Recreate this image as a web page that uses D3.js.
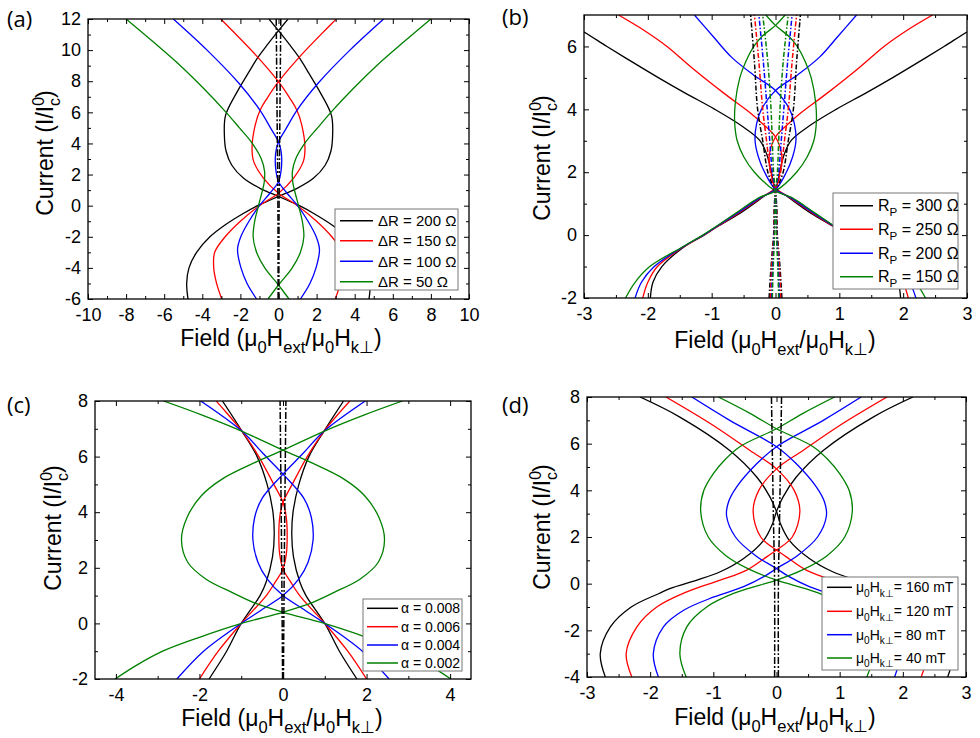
<!DOCTYPE html>
<html>
<head>
<meta charset="utf-8">
<script src="https://cdn.jsdelivr.net/npm/d3@7/dist/d3.min.js"></script>
<style>
  body { margin: 0; background: #fff; }
  text { font-family: "Liberation Sans", Arial, sans-serif; }
</style>
</head>
<body>
<svg id="fig" width="980" height="738"></svg>
<script>
// each series is one branch as [current, field]; the other branch is its mirror (-field)

// (a) resistance difference
var aNames = ["ΔR = 200 Ω", "ΔR = 150 Ω", "ΔR = 100 Ω", "ΔR = 50 Ω"]
var aR200 = [[-6,-4.75],[-5,-4.82],[-4,-4.7],[-3,-4.3],[-2,-3.6],[-1.24,-2.81],[-0.5,-1.85],[0,-1.1],[0.3,-0.55],[0.6,0],[1.1,0.95],[1.76,1.83],[2.6,2.45],[3.5,2.75],[4.5,2.84],[5.8,2.78],[7.3,2.18],[8.5,1.6],[9.5,1.1],[10.4,0.55],[11.25,0],[12,-0.5]]
var aR150 = [[-6,-2.98],[-5,-3.25],[-4,-3.4],[-3,-3.35],[-2,-2.8],[-1,-2.0],[0,-1.0],[0.8,0],[1.76,0.78],[2.83,1.3],[3.7,1.39],[5.2,1.22],[6.15,0.96],[6.9,0.6],[7.97,0],[9.6,-1.13],[12,-3.03]]
var aR100 = [[-6,-1.15],[-5,-1.65],[-4,-1.97],[-2.8,-2.15],[-2,-1.98],[-1,-1.55],[0,-1.0],[0.8,-0.45],[1.54,0],[2.2,0.13],[3.0,0.17],[3.6,0.12],[4.11,0],[5,-0.42],[6.1,-0.95],[7.9,-2.1],[10,-3.75],[12,-5.52]]
var aR50 = [[-6,0.55],[-5.1,0],[-4,-0.72],[-3,-1.15],[-2,-1.33],[-1,-1.25],[0,-1.05],[0.8,-0.88],[1.5,-0.75],[2.2,-0.73],[3,-0.9],[4.1,-1.43],[5,-2.05],[6,-2.75],[7.5,-3.9],[9,-5.15],[10.5,-6.55],[12,-8.0]]
var aDash = [[-6,0.02],[0,0.03],[4,0.06],[12,0.12]]
var aXTicks = [-10,-8,-6,-4,-2,0,2,4,6,8,10]
var aYTicks = [-6,-4,-2,0,2,4,6,8,10,12]

// (b) parallel resistance
var bNames = ["R_{P} = 300 Ω", "R_{P} = 250 Ω", "R_{P} = 200 Ω", "R_{P} = 150 Ω"]
var bP300 = [[-2,1.96],[-1.5,1.92],[-1,1.78],[-0.4,1.45],[0,1.12],[0.26,0.92],[0.69,0.56],[1.22,0.19],[1.5,0],[2.06,-0.07],[2.59,-0.14],[3.02,-0.25],[3.5,-0.55],[4.0,-0.95],[4.5,-1.4],[5.0,-1.83],[5.5,-2.24],[6.0,-2.64],[6.46,-3.0],[7,-3.45]]
var bP250 = [[-2,-2.08],[-1.5,-2.0],[-1,-1.85],[-0.4,-1.46],[0,-1.12],[0.25,-0.93],[0.7,-0.58],[1.2,-0.22],[1.5,0],[2.0,0.07],[2.5,0.1],[3.12,0],[3.5,-0.18],[3.86,-0.38],[4.5,-0.8],[5.34,-1.32],[6,-1.7],[6.5,-2.05],[7,-2.46]]
var bP200 = [[-2,-2.2],[-1.5,-2.1],[-1,-1.9],[-0.4,-1.47],[0,-1.13],[0.25,-0.94],[0.7,-0.6],[1.2,-0.23],[1.45,0],[2.0,0.17],[2.5,0.27],[3.0,0.32],[3.5,0.3],[4.0,0.22],[4.6,0],[5.1,-0.35],[5.66,-0.69],[6.3,-0.97],[7,-1.27]]
var bP150 = [[-2,2.35],[-1.5,2.2],[-1,1.97],[-0.4,1.48],[0,1.14],[0.25,0.95],[0.7,0.62],[1.2,0.25],[1.4,0],[2.0,-0.33],[2.5,-0.5],[3.0,-0.6],[3.6,-0.64],[4.2,-0.63],[5.0,-0.56],[5.5,-0.47],[6.0,-0.34],[6.3,-0.22],[6.67,0],[7,0.15]]
var bDash300 = [[-2,-0.1],[-1,-0.07],[0,-0.03],[1.3,0],[2,0.12],[3,0.2],[4,0.28],[5.5,0.33],[7,0.39]]
var bDash250 = [[-2,-0.08],[-1,-0.06],[0,-0.025],[1.3,0],[2,0.08],[3,0.14],[4,0.2],[5.5,0.26],[7,0.33]]
var bDash200 = [[-2,-0.06],[-1,-0.045],[0,-0.02],[1.3,0],[2,0.05],[3,0.09],[4,0.13],[5.5,0.19],[7,0.26]]
var bDash150 = [[-2,-0.05],[-1,-0.035],[0,-0.015],[1.3,0],[2,0.03],[3,0.05],[4,0.07],[5.5,0.12],[7,0.2]]
var bXTicks = [-3,-2,-1,0,1,2,3]
var bYTicks = [-2,0,2,4,6]

// (c) damping
var cNames = ["α = 0.008", "α = 0.006", "α = 0.004", "α = 0.002"]
var cA008 = [[-2,-1.77],[-1,-1.35],[0,-1.0],[1,-0.55],[1.5,-0.4],[2.4,-0.25],[3.2,-0.21],[4,-0.24],[5,-0.38],[6,-0.62],[6.91,-0.98],[8,-1.45]]
var cA006 = [[-2,-2.0],[-1,-1.55],[0,-1.0],[1,-0.4],[1.5,-0.18],[1.96,0],[2.5,0.08],[3.1,0.1],[3.8,0.08],[4.36,0],[5,-0.22],[6,-0.58],[6.91,-0.98],[8,-1.6]]
var cA004 = [[-2,-2.54],[-1,-1.9],[0,-1.0],[0.5,-0.5],[1.0,0],[1.6,0.38],[2.2,0.6],[3,0.72],[3.8,0.68],[4.5,0.5],[5.37,0],[6.1,-0.47],[6.91,-0.98],[8,-1.97]]
var cA002 = [[-2,-4.02],[-1.5,-3.5],[-1,-2.88],[-0.5,-2.0],[0,-0.99],[0.4,0],[0.7,0.62],[1.1,1.2],[1.6,1.85],[2.2,2.28],[3.0,2.43],[3.8,2.3],[4.6,1.95],[5.2,1.45],[5.8,0.65],[6.23,0],[6.91,-0.98],[7.5,-1.95],[8,-2.86]]
var cDash = [[-2,0.01],[2,0.03],[8,0.07]]
var cXTicks = [-4,-2,0,2,4]
var cYTicks = [-2,0,2,4,6,8]

// (d) anisotropy field
var dNames = ["μ_{0}H_{k⊥}= 160 mT", "μ_{0}H_{k⊥}= 120 mT", "μ_{0}H_{k⊥}= 80 mT", "μ_{0}H_{k⊥}= 40 mT"]
var dK160 = [[-4,-2.71],[-3,-2.79],[-1.85,-2.63],[-1,-2.3],[-0.42,-1.86],[-0.2,-1.68],[0.15,-1.26],[0.51,-0.89],[1.08,-0.52],[1.87,-0.2],[2.59,-0.06],[3.09,0],[3.7,0.1],[4.56,0.31],[5.71,0.74],[7.14,1.53],[8,2.16]]
var dK120 = [[-4,-2.29],[-3,-2.38],[-1.85,-2.21],[-0.99,-1.89],[-0.35,-1.42],[0.15,-0.89],[0.58,-0.47],[1.16,-0.15],[1.44,0],[2.0,0.25],[3.09,0.37],[4.0,0.28],[4.92,0],[5.71,-0.42],[6.78,-1.0],[8,-1.75]]
var dK80 = [[-4,-1.87],[-3,-1.95],[-1.85,-1.79],[-1.14,-1.47],[-0.57,-0.99],[-0.13,-0.52],[0.3,-0.2],[0.65,0],[1.2,0.33],[2.0,0.65],[2.9,0.79],[3.5,0.76],[4.15,0.63],[5.15,0.31],[5.87,0],[7.0,-0.74],[8,-1.34]]
var dK40 = [[-4,-1.43],[-3,-1.53],[-1.85,-1.42],[-0.99,-1.1],[-0.42,-0.68],[-0.06,-0.26],[0.15,0],[0.6,0.42],[1.2,0.8],[2.0,1.08],[3.09,1.2],[4.0,1.15],[4.72,1.0],[5.3,0.82],[5.87,0.58],[6.64,0],[7.3,-0.42],[8,-0.92]]
var dDash = [[-4,0.03],[0,0.03],[3,0.05],[8,0.08]]
var dXTicks = [-3,-2,-1,0,1,2,3]
var dYTicks = [-4,-2,0,2,4,6,8]

var colors = ["#000000", "#ff0000", "#0000ff", "#008000"]

var svg = d3.select("#fig")

// writes "a_{b}c^{d}" style strings as tspans
function rich(textSel, str, fs){
  var re = /([_^])\{([^}]*)\}|([^_^]+)/g, m, shift = 0
  while((m = re.exec(str)) !== null){
    var kind = m[1] ? (m[1] == "_" ? 1 : 2) : 0
    var t = textSel.append("tspan").text(m[1] ? m[2] : m[3])
    var target = kind == 1 ? 0.3*fs : kind == 2 ? -0.42*fs : 0
    t.attr("dy", target - shift)
    shift = target
    if(kind) t.attr("font-size", fs*0.72)
  }
}

var xTitle = "Field (μ_{0}H_{ext}/μ_{0}H_{k⊥})"

function draw_panel(p, idx){
  var box = p.box
  var x = d3.scaleLinear().domain(p.xd).range([box[0], box[1]])
  var y = d3.scaleLinear().domain(p.yd).range([box[3], box[2]])

  var g = svg.append("g")

  svg.append("clipPath").attr("id", "clip" + idx)
    .append("rect")
    .attr("x", box[0]).attr("y", box[2])
    .attr("width", box[1] - box[0]).attr("height", box[3] - box[2])

  var plot = g.append("g").attr("clip-path", "url(#clip" + idx + ")")

  function branch(sign){
    return d3.line()
      .x(function(d){return x(sign * d[1])})
      .y(function(d){return y(d[0])})
      .curve(d3.curveCatmullRom.alpha(0.5))
  }

  p.series.forEach(function(s, i){
    [1, -1].forEach(function(sign){
      plot.append("path")
        .datum(s)
        .attr("d", branch(sign))
        .attr("fill", "none")
        .attr("stroke", colors[i])
        .attr("stroke-width", 1.3)
    })
  })

  p.dashes.forEach(function(s, i){
    [1, -1].forEach(function(sign){
      plot.append("path")
        .datum(s)
        .attr("d", branch(sign))
        .attr("fill", "none")
        .attr("stroke", p.dashColors[i])
        .attr("stroke-width", 1.5)
        .attr("stroke-dasharray", p.dashPattern)
    })
  })

  // ticks, inward on all four sides
  function minorVals(scale, major, step){
    var d = scale.domain(), out = []
    for(var v = Math.ceil(d[0] / step) * step; v <= d[1] + 1e-9; v += step){
      var r = Math.round(v * 100) / 100
      if(major.indexOf(r) < 0 && r > d[0] + 1e-9 && r < d[1] - 1e-9) out.push(r)
    }
    return out
  }
  var xMinor = minorVals(x, p.xTicks, p.xStep),
      yMinor = minorVals(y, p.yTicks, p.yStep)

  function clean(a){ a.select(".domain").remove(); a.selectAll("line").attr("stroke", "#000") }

  g.append("g").attr("transform", "translate(0," + box[3] + ")")
    .call(d3.axisBottom(x).tickValues(p.xTicks).tickSize(-5).tickPadding(9).tickFormat(function(d){return String(d)}))
    .call(clean)
    .attr("font-size", 18).attr("font-family", null)
  g.append("g").attr("transform", "translate(0," + box[3] + ")")
    .call(d3.axisBottom(x).tickValues(xMinor).tickSize(-3).tickFormat(""))
    .call(clean)
  g.append("g").attr("transform", "translate(0," + box[2] + ")")
    .call(d3.axisTop(x).tickValues(p.xTicks).tickSize(-5).tickFormat(""))
    .call(clean)
  g.append("g").attr("transform", "translate(0," + box[2] + ")")
    .call(d3.axisTop(x).tickValues(xMinor).tickSize(-3).tickFormat(""))
    .call(clean)

  g.append("g").attr("transform", "translate(" + box[0] + ",0)")
    .call(d3.axisLeft(y).tickValues(p.yTicks).tickSize(-5).tickPadding(7).tickFormat(function(d){return String(d)}))
    .call(clean)
    .attr("font-size", 18).attr("font-family", null)
  g.append("g").attr("transform", "translate(" + box[0] + ",0)")
    .call(d3.axisLeft(y).tickValues(yMinor).tickSize(-3).tickFormat(""))
    .call(clean)
  g.append("g").attr("transform", "translate(" + box[1] + ",0)")
    .call(d3.axisRight(y).tickValues(p.yTicks).tickSize(-5).tickFormat(""))
    .call(clean)
  g.append("g").attr("transform", "translate(" + box[1] + ",0)")
    .call(d3.axisRight(y).tickValues(yMinor).tickSize(-3).tickFormat(""))
    .call(clean)

  g.append("rect")
    .attr("x", box[0]).attr("y", box[2])
    .attr("width", box[1] - box[0]).attr("height", box[3] - box[2])
    .attr("fill", "none").attr("stroke", "#000").attr("stroke-width", 1.3)

  // legend
  var lg = p.legend
  g.append("rect")
    .attr("x", lg.x0).attr("y", lg.y0)
    .attr("width", lg.x1 - lg.x0).attr("height", lg.y1 - lg.y0)
    .attr("fill", "#fff").attr("stroke", "#777").attr("stroke-width", 1)
  p.names.forEach(function(name, i){
    var ry = lg.rows[i]
    g.append("line")
      .attr("x1", lg.l0).attr("x2", lg.l1)
      .attr("y1", ry).attr("y2", ry)
      .attr("stroke", colors[i]).attr("stroke-width", 1.5)
    var t = g.append("text")
      .attr("x", lg.tx).attr("y", ry + lg.fs * 0.36)
      .attr("font-size", lg.fs)
    rich(t, name, lg.fs)
  })

  // titles
  var xt = g.append("text")
    .attr("x", p.xTitle[0]).attr("y", p.xTitle[1])
    .attr("text-anchor", "middle").attr("font-size", 23)
  rich(xt, xTitle, 23)

  var yt = g.append("text")
    .attr("transform", "translate(" + p.yTitle[0] + "," + p.yTitle[1] + ") rotate(-90)")
    .attr("text-anchor", "middle").attr("font-size", 23)
  yt.append("tspan").text("Current (I/I")
  yt.append("tspan").text("0").attr("font-size", 16).attr("dy", -9)
  yt.append("tspan").text("c").attr("font-size", 16).attr("dx", -9).attr("dy", 16)
  yt.append("tspan").text(")").attr("dy", -7)

  g.append("text")
    .attr("x", p.label[0]).attr("y", p.label[1])
    .attr("font-size", 22)
    .style("font-family", "'Open Sans', 'Noto Sans', sans-serif")
    .text(p.label[2])
}

var panels = [
  {box: [88, 469, 19, 299], xd: [-10, 10], yd: [-6, 12],
   xTicks: aXTicks, yTicks: aYTicks, xStep: 1, yStep: 1,
   series: [aR200, aR150, aR100, aR50], names: aNames,
   dashes: [aDash], dashColors: ["#000"], dashPattern: "7,2,2,2",
   legend: {x0: 335, x1: 458, y0: 209, y1: 290, rows: [220.7, 240.7, 261.3, 281.7], l0: 340, l1: 373, tx: 378, fs: 15},
   xTitle: [281, 346], yTitle: [53, 153], label: [7, 27, "(a)"]},
  {box: [584, 967, 15, 298], xd: [-3, 3], yd: [-2, 7],
   xTicks: bXTicks, yTicks: bYTicks, xStep: 0.5, yStep: 1,
   series: [bP300, bP250, bP200, bP150], names: bNames,
   dashes: [bDash300, bDash250, bDash200, bDash150], dashColors: colors, dashPattern: "5,2,1.5,2",
   legend: {x0: 833, x1: 958, y0: 193, y1: 289, rows: [205.7, 229.3, 253.3, 276.7], l0: 840, l1: 873, tx: 878, fs: 16},
   xTitle: [775, 348], yTitle: [550, 158], label: [502, 25, "(b)"]},
  {box: [95, 471, 401, 679], xd: [-4.5, 4.5], yd: [-2, 8],
   xTicks: cXTicks, yTicks: cYTicks, xStep: 1, yStep: 1,
   series: [cA008, cA006, cA004, cA002], names: cNames,
   dashes: [cDash], dashColors: ["#000"], dashPattern: "7,2,2,2",
   legend: {x0: 363, x1: 462, y0: 599, y1: 671, rows: [608.3, 626.7, 645, 663], l0: 367, l1: 398, tx: 401, fs: 14},
   xTitle: [282, 726], yTitle: [61, 528], label: [7, 413, "(c)"]},
  {box: [587, 966, 397, 677], xd: [-3, 3], yd: [-4, 8],
   xTicks: dXTicks, yTicks: dYTicks, xStep: 0.5, yStep: 1,
   series: [dK160, dK120, dK80, dK40], names: dNames,
   dashes: [dDash], dashColors: ["#000"], dashPattern: "7,2,2,2",
   legend: {x0: 822, x1: 958, y0: 577, y1: 670, rows: [587.3, 611.3, 634.7, 658], l0: 827, l1: 852, tx: 856, fs: 14},
   xTitle: [775, 725], yTitle: [550, 527], label: [502, 413, "(d)"]}
]

panels.forEach(draw_panel)
</script>
</body>
</html>
